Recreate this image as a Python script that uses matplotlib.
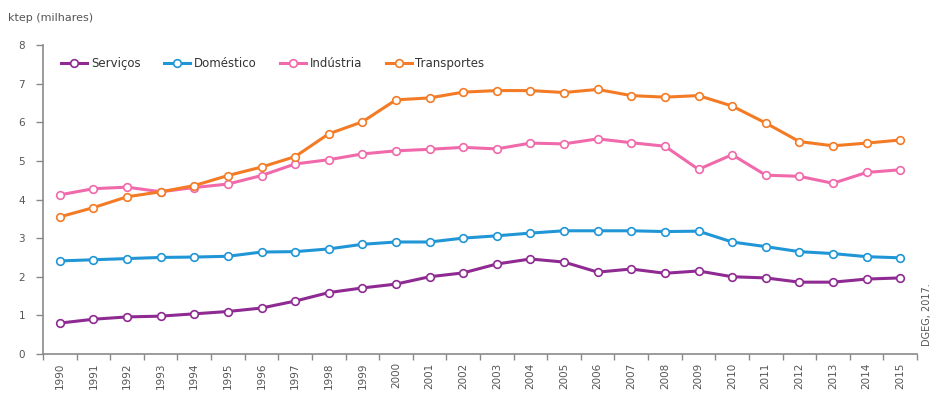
import numpy as np
import matplotlib.pyplot as plt
from matplotlib.ticker import FixedLocator

anos = list(range(1990, 2016))

servicos = [0.80, 0.90, 0.96, 0.98, 1.04, 1.10, 1.19, 1.37, 1.59, 1.71, 1.81, 2.00, 2.10,
            2.33, 2.46, 2.38, 2.12, 2.20, 2.09, 2.15, 2.00, 1.97, 1.86, 1.86, 1.94, 1.97]
domestico = [2.41, 2.44, 2.47, 2.50, 2.51, 2.53, 2.64, 2.65, 2.72, 2.84, 2.90, 2.90, 3.00,
             3.06, 3.13, 3.19, 3.19, 3.19, 3.17, 3.18, 2.90, 2.78, 2.65, 2.60, 2.52, 2.49]
industria = [4.12, 4.28, 4.32, 4.20, 4.31, 4.40, 4.62, 4.92, 5.03, 5.18, 5.26, 5.30, 5.35,
             5.31, 5.46, 5.44, 5.57, 5.47, 5.38, 4.78, 5.16, 4.63, 4.60, 4.42, 4.70, 4.77]
transportes = [3.55, 3.79, 4.07, 4.20, 4.36, 4.62, 4.84, 5.11, 5.70, 6.01, 6.58, 6.63, 6.78,
               6.82, 6.82, 6.77, 6.85, 6.69, 6.65, 6.69, 6.42, 5.98, 5.50, 5.39, 5.46, 5.54]

series = [
    ("Serviços", servicos, "#8e2a92"),
    ("Doméstico", domestico, "#2196d6"),
    ("Indústria", industria, "#f06aab"),
    ("Transportes", transportes, "#f47b25"),
]

cinza = "#8a8a8a"
texto = "#555555"

fig = plt.figure(figsize=(9.35, 3.96), dpi=100)
ax = fig.add_axes([43 / 935, 1 - 354 / 396, (917 - 43) / 935, (354 - 45) / 396])

x = np.arange(len(anos))
for nome, vals, cor in series:
    ax.plot(x, vals, color=cor, lw=2.2, marker="o", ms=5.5, mfc="white",
            mec=cor, mew=1.2, label=nome)

ax.set_xlim(-0.5, len(anos) - 0.5)
ax.set_ylim(0, 8)
ax.set_yticks(range(0, 9))
ax.set_xticks(x)
ax.set_xticklabels([str(a) for a in anos], rotation=90, fontsize=7.5, color=texto)
ax.xaxis.set_minor_locator(FixedLocator(np.arange(-0.5, len(anos), 1)))
ax.tick_params(axis="x", which="major", length=0, pad=6)
ax.tick_params(axis="x", which="minor", length=4, color=cinza, width=1)
ax.tick_params(axis="y", length=5, color=cinza, width=1, labelsize=7.5,
               labelcolor=texto, pad=8)

for s in ("top", "right"):
    ax.spines[s].set_visible(False)
for s in ("left", "bottom"):
    ax.spines[s].set_color(cinza)
    ax.spines[s].set_linewidth(1.2)

fig.text(8 / 935, 1 - 18 / 396, "ktep (milhares)", fontsize=8, color=texto, va="center")

ax.legend(loc="upper left", bbox_to_anchor=(0.009, 0.995), ncol=4, frameon=False,
          fontsize=8.5, handlelength=2.2, handletextpad=0.3, columnspacing=2.0,
          labelcolor="#333333")

fig.text(927 / 935, 1 - 315 / 396, "DGEG, 2017.", rotation=90, fontsize=7,
         color=texto, ha="center", va="center")

fig.savefig("out.png", dpi=100)
